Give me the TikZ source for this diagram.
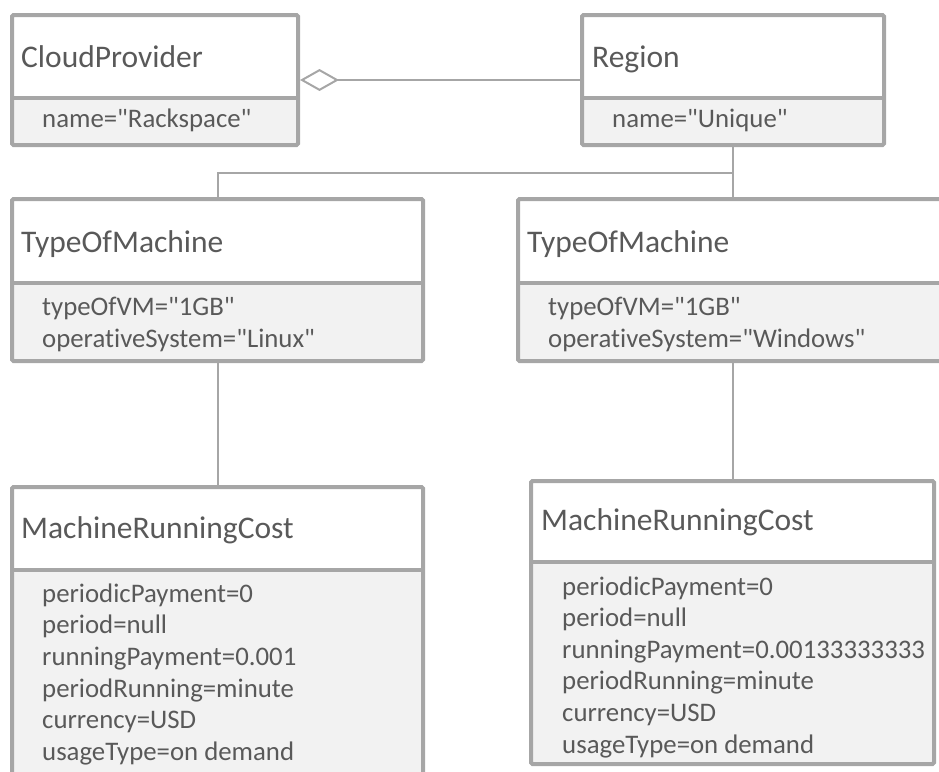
\documentclass[tikz,border=0pt]{standalone}
\usepackage{fontspec}
% plain Carlito: straight quotes, no fi/ti ligatures
\newfontfamily\umlfont{Carlito}[Ligatures=CommonOff]
\usetikzlibrary{arrows.meta}
\definecolor{umlline}{HTML}{A6A6A6}
\definecolor{umltext}{HTML}{595959}
\definecolor{umlattr}{HTML}{F2F2F2}
\tikzset{
  classbox/.style={draw=umlline, line width=4pt, rounded corners=1.5pt, inner sep=0pt},
  divider/.style={draw=umlline, line width=4pt},
  conn/.style={draw=umlline, line width=2pt},
  classtitle/.style={text=umltext, font=\umlfont\fontsize{31.5}{36}\selectfont, anchor=base west, inner sep=0pt},
  classattr/.style={text=umltext, font=\umlfont\fontsize{26.8}{31}\selectfont, anchor=base west, inner sep=0pt},
}
% #1 name, #2 left, #3 top, #4 right, #5 bottom, #6 compartment divider
\newcommand\umlclass[6]{%
  \fill[umlattr] ({#2+2},#6) rectangle ({#4-2},{#5-2});
  \node[classbox, minimum width={#4-#2-4}, minimum height={#5-#3-4}]
    (#1) at ({(#2+#4)/2},{(#3+#5)/2}) {};
  \draw[divider] (#1.west |- 0,#6) -- (#1.east |- 0,#6);
}
\begin{document}
\begin{tikzpicture}[x=1pt, y=-1pt]
\useasboundingbox (0,0) rectangle (939,771);

% class boxes
\umlclass{cp}{10}{13}{300}{147}{98}
\umlclass{rg}{580}{13}{886}{147}{98}
\umlclass{tomL}{10}{197}{425}{363}{283}
\umlclass{tomR}{516}{197}{945}{363}{283}
\umlclass{mrcL}{10}{485}{425}{800}{570}
\umlclass{mrcR}{529}{479}{936}{766}{562}

% titles
\node[classtitle] (cp-t) at (21,67) {CloudProvider};
\node[classtitle] (rg-t) at (592,67) {Region};
\node[classtitle] (tomL-t) at (21,252) {TypeOfMachine};
\node[classtitle] (tomR-t) at (527,252) {TypeOfMachine};
\node[classtitle] (mrcL-t) at (21,538) {MachineRunningCost};
\node[classtitle] (mrcR-t) at (541,530) {MachineRunningCost};

% attributes
\node[classattr] (cp-a1) at (42,127) {name="Rackspace"};
\node[classattr] (rg-a1) at (612,127) {name="Unique"};
\foreach \t [count=\i] in {typeOfVM="1GB", operativeSystem="Linux"}
  \node[classattr] (tomL-a\i) at (42,{315+32*(\i-1)}) {\t};
\foreach \t [count=\i] in {typeOfVM="1GB", operativeSystem="Windows"}
  \node[classattr] (tomR-a\i) at (548,{315+32*(\i-1)}) {\t};
\foreach \t [count=\i] in {periodicPayment=0, period=null, runningPayment=0.001,
    periodRunning=minute, currency=USD, usageType=on demand}
  \node[classattr] (mrcL-a\i) at (42,{602+31.7*(\i-1)}) {\t};
\foreach \t [count=\i] in {periodicPayment=0, period=null, runningPayment=0.00133333333,
    periodRunning=minute, currency=USD, usageType=on demand}
  \node[classattr] (mrcR-a\i) at (562,{595+31.6*(\i-1)}) {\t};

% associations
\draw[conn, {Diamond[open, length=39pt, width=22pt]}-] (cp.east) -- (rg.west);
\draw[conn] (rg.south) -- ++(0,26) -| (tomL.north);
\draw[conn] (rg.south) -- (rg.south |- tomR.north);
\draw[conn] (tomL.south) -- (mrcL.north);
\draw[conn] (tomR.south -| mrcR.north) -- (mrcR.north);
\end{tikzpicture}
\end{document}
